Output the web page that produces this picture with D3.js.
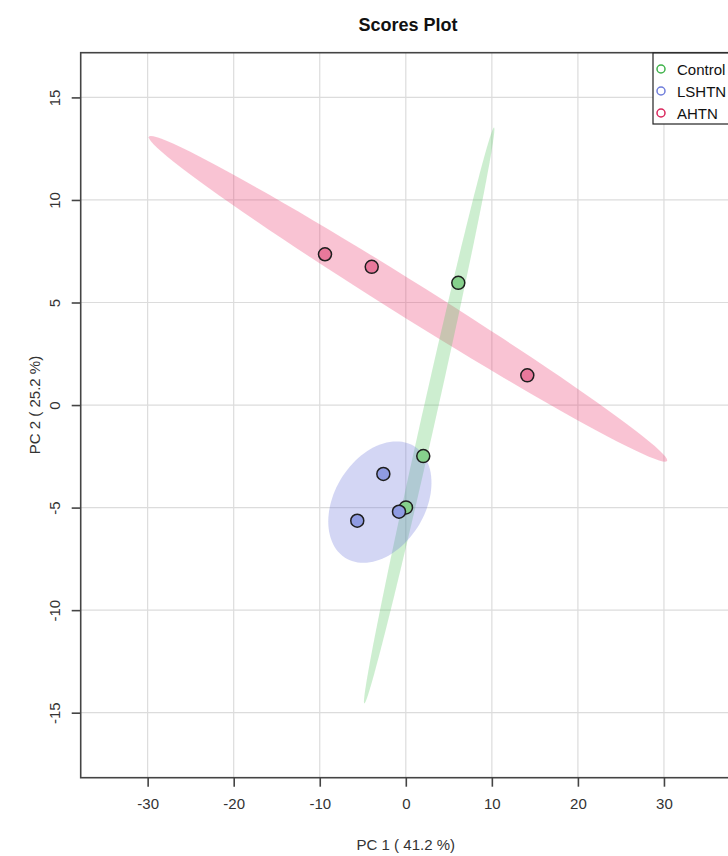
<!DOCTYPE html>
<html>
<head>
<meta charset="utf-8">
<script src="https://cdn.jsdelivr.net/npm/d3@7"></script>
<style>
  html, body { margin: 0; padding: 0; background: #fff; }
  svg { display: block; font-family: "Liberation Sans", Arial, sans-serif; }
</style>
</head>
<body>
<svg id="chart" width="728" height="856"></svg>
<script>
// ---- data ----
const groups = ["Control", "LSHTN", "AHTN"];
const pc1 = [2.03, 0.02, 6.10, -2.61, -5.64, -0.79, -9.39, -3.96, 14.12];
const pc2 = [-2.49, -4.99, 5.96, -3.36, -5.64, -5.20, 7.35, 6.74, 1.45];
const sampleGroup = ["Control", "Control", "Control", "LSHTN", "LSHTN", "LSHTN", "AHTN", "AHTN", "AHTN"];
const xTicks = [-30, -20, -10, 0, 10, 20, 30];
const yTicks = [-15, -10, -5, 0, 5, 10, 15];
const xLimits = [-37.78, 37.78];
const yLimits = [-18.17, 17.18];
const ellipseLevel = 0.95;
const titleText = "Scores Plot";
const xLabel = "PC 1 ( 41.2 %)";
const yLabel = "PC 2 ( 25.2 %)";

// ---- styles ----
const pointFill = { Control: "#86d08c", LSHTN: "#8f9be2", AHTN: "#e8789b" };
const ellipseFill = { Control: "rgb(90,200,100)", LSHTN: "rgb(110,120,220)", AHTN: "rgb(235,55,110)" };
const legendColor = { Control: "#3fb24a", LSHTN: "#6f7ddb", AHTN: "#d9265c" };

const svg = d3.select("#chart");
const plot = { left: 80.7, right: 730.9, top: 52.7, bottom: 777.7 };

const x = d3.scaleLinear().domain(xLimits).range([plot.left, plot.right]);
const y = d3.scaleLinear().domain(yLimits).range([plot.bottom, plot.top]);
const fmt = d => String(d); // hyphen-minus like the reference

// grid
const grid = svg.append("g");
grid.selectAll(".gx").data(xTicks).join("line")
  .attr("x1", d => x(d)).attr("x2", d => x(d))
  .attr("y1", plot.top).attr("y2", plot.bottom)
  .attr("stroke", "#dcdcdc").attr("stroke-width", 1.2);
grid.selectAll(".gy").data(yTicks).join("line")
  .attr("y1", d => y(d)).attr("y2", d => y(d))
  .attr("x1", plot.left).attr("x2", plot.right)
  .attr("stroke", "#dcdcdc").attr("stroke-width", 1.2);

// ellipses (95% normal confidence ellipse from group covariance)
const chi2 = -2 * Math.log(1 - ellipseLevel); // chi-square quantile, 2 df
const tScale = Math.sqrt(chi2);
function ellipsePts(gx, gy) {
  const n = gx.length;
  const mx = d3.mean(gx), my = d3.mean(gy);
  let sxx = 0, syy = 0, sxy = 0;
  for (let i = 0; i < n; i++) {
    sxx += (gx[i] - mx) ** 2; syy += (gy[i] - my) ** 2; sxy += (gx[i] - mx) * (gy[i] - my);
  }
  sxx /= (n - 1); syy /= (n - 1); sxy /= (n - 1);
  const sx = Math.sqrt(sxx), sy = Math.sqrt(syy);
  const r = sxy / (sx * sy);
  const dd = Math.acos(Math.max(-1, Math.min(1, r)));
  const pts = [];
  for (let k = 0; k < 100; k++) {
    const a = -Math.PI + 2 * Math.PI * k / 100;
    pts.push([mx + tScale * sx * Math.cos(a + dd / 2), my + tScale * sy * Math.cos(a - dd / 2)]);
  }
  return pts;
}
const line = d3.line().x(d => x(d[0])).y(d => y(d[1])).curve(d3.curveLinearClosed);
const ellG = svg.append("g");
["AHTN", "Control", "LSHTN"].forEach(g => {
  const idx = sampleGroup.map((s, i) => s === g ? i : -1).filter(i => i >= 0);
  const pts = ellipsePts(idx.map(i => pc1[i]), idx.map(i => pc2[i]));
  ellG.append("path").attr("d", line(pts))
    .attr("fill", ellipseFill[g]).attr("fill-opacity", 0.3).attr("stroke", "none");
});

// points
const order = [0, 1, 2, 3, 4, 5, 6, 7, 8];
svg.append("g").selectAll("circle").data(order).join("circle")
  .attr("cx", i => x(pc1[i])).attr("cy", i => y(pc2[i]))
  .attr("r", 6.5)
  .attr("fill", i => pointFill[sampleGroup[i]])
  .attr("stroke", "#1e1e1e").attr("stroke-width", 1.5);

// frame
svg.append("rect")
  .attr("x", plot.left).attr("y", plot.top)
  .attr("width", plot.right - plot.left).attr("height", plot.bottom - plot.top)
  .attr("fill", "none").attr("stroke", "#444").attr("stroke-width", 1.6);

// axes
const xAxis = d3.axisBottom(x).tickValues(xTicks).tickSize(9).tickPadding(12).tickFormat(fmt);
const gx = svg.append("g").attr("transform", `translate(0,${plot.bottom})`).call(xAxis);
gx.select(".domain").remove();
gx.selectAll(".tick line").attr("stroke", "#444").attr("stroke-width", 1.6);
gx.selectAll(".tick text").attr("font-size", 15).attr("fill", "#333")
  .attr("font-family", "'Liberation Sans', Arial, sans-serif");

const yAxis = d3.axisLeft(y).tickValues(yTicks).tickSize(9).tickFormat(fmt);
const gy = svg.append("g").attr("transform", `translate(${plot.left},0)`).call(yAxis);
gy.select(".domain").remove();
gy.selectAll(".tick line").attr("stroke", "#444").attr("stroke-width", 1.6);
gy.selectAll(".tick text")
  .attr("font-size", 15).attr("fill", "#333")
  .attr("font-family", "'Liberation Sans', Arial, sans-serif")
  .attr("x", null).attr("dy", null)
  .attr("text-anchor", "middle")
  .attr("transform", "translate(-21,0) rotate(-90)");

// titles
svg.append("text").attr("x", 408).attr("y", 31)
  .attr("text-anchor", "middle").attr("font-size", 18).attr("font-weight", "bold")
  .attr("fill", "#111").text(titleText);
svg.append("text").attr("x", x(0)).attr("y", 850)
  .attr("text-anchor", "middle").attr("font-size", 15).attr("fill", "#333").text(xLabel);
svg.append("text")
  .attr("transform", `translate(40,${y(0)}) rotate(-90)`)
  .attr("text-anchor", "middle").attr("font-size", 15).attr("fill", "#333").text(yLabel);

// legend
const leg = svg.append("g");
leg.append("rect").attr("x", 653).attr("y", 53).attr("width", 110).attr("height", 71)
  .attr("fill", "#fff").attr("stroke", "#222").attr("stroke-width", 1.2);
groups.forEach((g, i) => {
  const cy = 69 + i * 22;
  leg.append("circle").attr("cx", 661).attr("cy", cy).attr("r", 4)
    .attr("fill", "none").attr("stroke", legendColor[g]).attr("stroke-width", 1.5);
  leg.append("text").attr("x", 677).attr("y", cy + 5.5)
    .attr("font-size", 15).attr("fill", "#111").text(g);
});
</script>
</body>
</html>
